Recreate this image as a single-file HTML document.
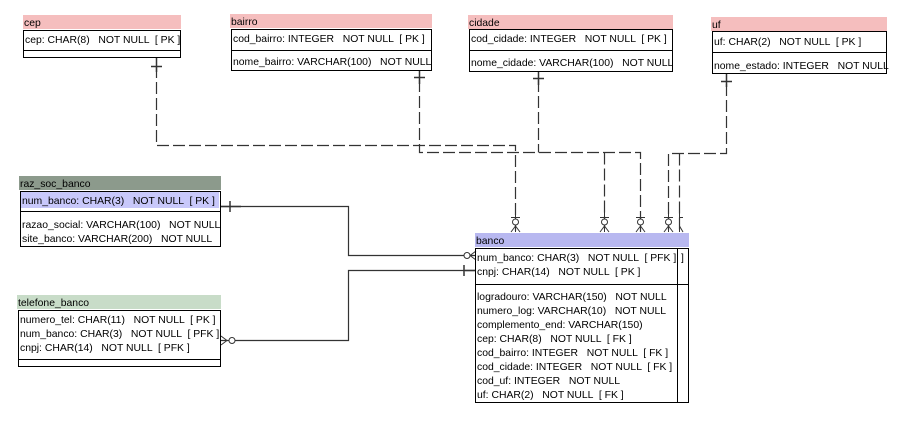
<!DOCTYPE html>
<html><head><meta charset="utf-8"><style>
html,body{margin:0;padding:0;background:#fff;}
svg{display:block;}
text{font-family:"Liberation Sans",sans-serif;font-size:10.4px;fill:#000;white-space:pre;}
</style></head><body>
<svg width="902" height="422" xmlns="http://www.w3.org/2000/svg" xml:space="preserve">
<g fill="none" stroke="#333" stroke-width="1.2">
<g stroke-dasharray="12,4">
<path d="M156.5 66 V145.5 H515.5 V232"/>
<path d="M419.5 80 V152.5 H640.5 V232"/>
<path d="M538.5 80 V152.5"/>
<path d="M604.5 152.5 V232"/>
<path d="M726.5 84 V153.5 H668.5 V232"/>
<path d="M679.5 153.5 V232"/>
</g>
<path d="M221 206.5 H348.5 V255.5 H476"/>
<path d="M221 340.5 H348.5 V270.5 H476"/>
</g>
<g stroke="#333" stroke-width="1.5">
<path d="M156.5 58 V72 M151 66.5 H162"/>
<path d="M419.5 70 V84 M414 77.5 H425"/>
<path d="M538.5 71 V85 M533 78.5 H544"/>
<path d="M726.5 73 V87 M721 81.5 H732"/>
<path d="M221 206.5 H241 M230 201 V212"/>
<path d="M465 270.5 H476 M464 265 V276"/>
</g>
<g stroke="#333" stroke-width="1" fill="#fff">
<g id="cf"><path d="M515.5 212 V232 M511 217.5 H520 M515.5 226 L511 232 M515.5 226 L520 232"/><circle cx="515.5" cy="222" r="3"/></g>
<use href="#cf" x="89"/><use href="#cf" x="125"/><use href="#cf" x="153"/>
<path d="M679.5 212 V232 M679.5 217.5 H683 M679.5 226 L683 232"/>
<path d="M465 255.5 H476 M470 255.5 L476 251 M470 255.5 L476 260"/><circle cx="467" cy="255.5" r="3"/>
<path d="M221 340.5 H240 M227 340.5 L221 336 M227 340.5 L221 345"/><circle cx="232" cy="340.5" r="3"/>
</g>
<rect x="23" y="15" width="158" height="14" fill="#f5bebe"/>
<rect x="230" y="14" width="202" height="14" fill="#f5bebe"/>
<rect x="468" y="15" width="205" height="14" fill="#f5bebe"/>
<rect x="711" y="17" width="176" height="14" fill="#f5bebe"/>
<rect x="19" y="176" width="202" height="14" fill="#8c9a8c"/>
<rect x="17" y="295" width="204" height="14" fill="#c8dcc8"/>
<rect x="475" y="233" width="214" height="14" fill="#b8b8f0"/>
<rect x="21" y="192" width="198" height="16" fill="#c8c8fa"/>
<text x="24" y="26">cep</text>
<text x="231" y="25">bairro</text>
<text x="469" y="26">cidade</text>
<text x="712" y="28">uf</text>
<text x="20" y="187">raz_soc_banco</text>
<text x="18" y="306">telefone_banco</text>
<text x="476" y="244">banco</text>
<g fill="none" stroke="#000" stroke-width="1">
<rect x="23.5" y="30.5" width="157" height="27"/><path d="M23.5 50.5 H180.5"/>
<rect x="231.5" y="29.5" width="200" height="41"/><path d="M231.5 50.5 H431.5"/>
<rect x="469.5" y="29.5" width="203" height="42"/><path d="M469.5 50.5 H672.5"/>
<rect x="712.5" y="31.5" width="174" height="42"/><path d="M712.5 52.5 H886.5"/>
<rect x="20.5" y="191.5" width="200" height="55"/><path d="M20.5 211.5 H220.5"/>
<rect x="18.5" y="310.5" width="202" height="56"/><path d="M18.5 359.5 H220.5"/>
<rect x="475.5" y="248.5" width="213" height="154"/><path d="M475.5 284.5 H688.5 M677.5 248.5 V402.5"/>
</g>
<text x="25" y="43">cep: CHAR(8)   NOT NULL  [ PK ]</text>
<text x="233" y="42">cod_bairro: INTEGER   NOT NULL  [ PK ]</text>
<text x="233" y="65">nome_bairro: VARCHAR(100)   NOT NULL</text>
<text x="471" y="42">cod_cidade: INTEGER   NOT NULL  [ PK ]</text>
<text x="471" y="66">nome_cidade: VARCHAR(100)   NOT NULL</text>
<text x="714" y="45">uf: CHAR(2)   NOT NULL  [ PK ]</text>
<text x="714" y="69">nome_estado: INTEGER   NOT NULL</text>
<text x="22" y="204">num_banco: CHAR(3)   NOT NULL  [ PK ]</text>
<text x="22" y="228">razao_social: VARCHAR(100)   NOT NULL</text>
<text x="22" y="242">site_banco: VARCHAR(200)   NOT NULL</text>
<text x="20" y="323">numero_tel: CHAR(11)   NOT NULL  [ PK ]</text>
<text x="20" y="337">num_banco: CHAR(3)   NOT NULL  [ PFK ]</text>
<text x="20" y="351">cnpj: CHAR(14)   NOT NULL  [ PFK ]</text>
<text x="477" y="261">num_banco: CHAR(3)   NOT NULL  [ PFK ]</text>
<text x="681" y="261">]</text>
<text x="477" y="275">cnpj: CHAR(14)   NOT NULL  [ PK ]</text>
<text x="477" y="300">logradouro: VARCHAR(150)   NOT NULL</text>
<text x="477" y="314">numero_log: VARCHAR(10)   NOT NULL</text>
<text x="477" y="328">complemento_end: VARCHAR(150)</text>
<text x="477" y="342">cep: CHAR(8)   NOT NULL  [ FK ]</text>
<text x="477" y="356">cod_bairro: INTEGER   NOT NULL  [ FK ]</text>
<text x="477" y="370">cod_cidade: INTEGER   NOT NULL  [ FK ]</text>
<text x="477" y="384">cod_uf: INTEGER   NOT NULL</text>
<text x="477" y="398">uf: CHAR(2)   NOT NULL  [ FK ]</text>
</svg>
</body></html>
